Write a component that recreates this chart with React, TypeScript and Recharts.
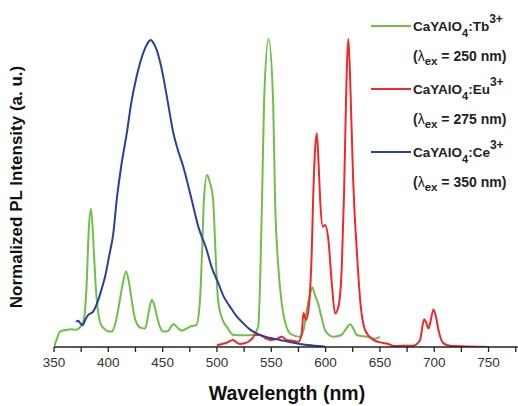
import React from 'react';
import { LineChart, Line, XAxis, YAxis } from 'recharts';

// Tb3+ emission (λex = 250 nm)
const tbWavelength = [350, 353, 355.5, 361, 366, 370, 375.5, 378, 380, 382, 384, 386, 388, 390, 393, 396, 399, 403, 406, 409, 413, 416.3, 419, 421.5, 424, 426, 430, 434, 437, 440, 442, 444.5, 447, 450.6, 455, 458, 460, 463, 467.6, 472, 476.8, 481, 484.4, 486.5, 488, 490.9, 493, 496.5, 498.5, 501, 505, 509, 515, 525, 533, 538, 540, 541.5, 543.4, 547.5, 551.7, 553.5, 556.5, 559, 561, 564, 567, 572, 576.5, 580, 582.7, 585, 587.8, 590, 593, 596, 599.5, 603, 607, 614.5, 619, 622.5, 625.5, 628.7, 638, 645.6, 650];
const tbIntensity = [0, 0.03, 0.05, 0.055, 0.058, 0.056, 0.071, 0.1, 0.2, 0.38, 0.448, 0.36, 0.22, 0.13, 0.075, 0.06, 0.052, 0.05, 0.07, 0.12, 0.2, 0.245, 0.21, 0.153, 0.1, 0.078, 0.062, 0.06, 0.11, 0.153, 0.14, 0.104, 0.07, 0.05, 0.052, 0.068, 0.075, 0.065, 0.053, 0.06, 0.068, 0.071, 0.153, 0.33, 0.477, 0.558, 0.54, 0.477, 0.32, 0.153, 0.09, 0.066, 0.039, 0.038, 0.039, 0.066, 0.25, 0.477, 0.8, 1.0, 0.8, 0.477, 0.26, 0.16, 0.11, 0.065, 0.045, 0.036, 0.033, 0.06, 0.12, 0.16, 0.194, 0.17, 0.143, 0.1, 0.055, 0.04, 0.033, 0.039, 0.06, 0.074, 0.06, 0.039, 0.033, 0.027, 0.033];

// Eu3+ emission (λex = 275 nm)
const euWavelength = [500, 505, 509, 515, 518, 521, 525, 529, 533, 535, 539.7, 544, 549, 554, 559.7, 564, 570, 575, 578, 579.6, 582, 584.2, 587.3, 588.5, 590, 591.9, 593.5, 595, 597.4, 599.5, 602.6, 605.7, 608.7, 611.8, 614.9, 617, 618.8, 621, 623.2, 625.3, 626.5, 628.7, 631.8, 636.4, 644, 650, 654.8, 658, 662.4, 670, 680, 684, 687, 690.7, 692.5, 694.7, 697, 699.3, 701.5, 703.9, 708.5, 716, 730, 750];
const euIntensity = [0.006, 0.01, 0.014, 0.023, 0.015, 0.01, 0.012, 0.017, 0.03, 0.039, 0.039, 0.03, 0.023, 0.025, 0.033, 0.023, 0.02, 0.017, 0.044, 0.11, 0.088, 0.12, 0.315, 0.477, 0.62, 0.694, 0.6, 0.477, 0.39, 0.396, 0.347, 0.207, 0.109, 0.131, 0.26, 0.5, 0.8, 1.0, 0.8, 0.55, 0.45, 0.315, 0.153, 0.055, 0.023, 0.015, 0.012, 0.01, 0.003, 0.004, 0.004, 0.01, 0.023, 0.09, 0.08, 0.06, 0.09, 0.122, 0.1, 0.055, 0.012, 0.003, 0.002, 0];

// Ce3+ emission (λex = 350 nm)
const ceWavelength = [370.3, 372.4, 374, 376.4, 379, 381.6, 386, 390.8, 394, 397, 401, 404.6, 407.7, 412, 417, 421, 426, 432, 436, 439, 441, 444.6, 448, 450.6, 455, 459.9, 464, 469, 476.8, 482.9, 490.6, 495, 501.3, 506, 512, 518, 524.3, 530, 536.6, 539.7, 548, 558, 567, 576.5, 588, 599.5];
const ceIntensity = [0.082, 0.085, 0.078, 0.071, 0.09, 0.104, 0.115, 0.153, 0.19, 0.228, 0.3, 0.369, 0.477, 0.59, 0.694, 0.79, 0.877, 0.953, 0.985, 0.997, 0.99, 0.964, 0.92, 0.877, 0.79, 0.694, 0.64, 0.585, 0.477, 0.39, 0.315, 0.26, 0.207, 0.165, 0.131, 0.1, 0.077, 0.058, 0.044, 0.039, 0.03, 0.023, 0.016, 0.01, 0.005, 0.001];

const xTicks = [350, 375, 400, 425, 450, 475, 500, 525, 550, 575, 600, 625, 650, 675, 700, 725, 750, 775];

const GREEN = '#6fbf4a';
const RED = '#f02828';
const BLUE = '#2c3f99';

const toRows = (xs: number[], ys: number[]) => xs.map((x, i) => ({ x, y: ys[i] }));
const tbData = toRows(tbWavelength, tbIntensity);
const euData = toRows(euWavelength, euIntensity);
const ceData = toRows(ceWavelength, ceIntensity);

const FONT = '"Liberation Sans", Arial, sans-serif';

const legendItems = [
  { color: GREEN, ion: 'Tb', ex: '250' },
  { color: RED, ion: 'Eu', ex: '275' },
  { color: BLUE, ion: 'Ce', ex: '350' },
];

export default function App() {
  return (
    <div style={{ position: 'absolute', left: 0, top: 0, width: 518, height: 406, overflow: 'hidden', background: '#fff' }}>
      <LineChart
        width={540}
        height={406}
        margin={{ top: 6, left: 54, right: 8, bottom: 29 }}
      >
        <XAxis
          dataKey="x"
          type="number"
          domain={[350, 790]}
          ticks={xTicks}
          tickFormatter={(v: number) => (v % 50 === 0 ? String(v) : '')}
          tickSize={5}
          tickMargin={5}
          height={30}
          axisLine={{ stroke: '#222', strokeWidth: 1.3 }}
          tickLine={{ stroke: '#222', strokeWidth: 1.3 }}
          tick={{ fill: '#333', fontSize: 13.5, fontFamily: FONT }}
          allowDataOverflow
        />
        <XAxis
          xAxisId="top"
          orientation="top"
          type="number"
          domain={[350, 790]}
          height={0}
          tick={false}
          tickLine={false}
          axisLine={{ stroke: '#222', strokeWidth: 1.5 }}
        />
        <YAxis
          type="number"
          domain={[0, 1.107]}
          width={0}
          tick={false}
          tickLine={false}
          axisLine={{ stroke: '#222', strokeWidth: 1.3 }}
          allowDataOverflow
        />
        <Line data={tbData} dataKey="y" type="monotone" stroke={GREEN} strokeWidth={2} dot={false} isAnimationActive={false} />
        <Line data={euData} dataKey="y" type="monotone" stroke={RED} strokeWidth={2} dot={false} isAnimationActive={false} />
        <Line data={ceData} dataKey="y" type="monotone" stroke={BLUE} strokeWidth={2} dot={false} isAnimationActive={false} />
      </LineChart>
      <svg width={518} height={406} style={{ position: 'absolute', left: 0, top: 0, pointerEvents: 'none' }}>
        <text
          transform="translate(22,187) rotate(-90)"
          textAnchor="middle"
          fontFamily={FONT}
          fontWeight="bold"
          fontSize={17}
          fill="#111"
        >
          Normalized PL Intensity (a. u.)
        </text>
        <text x={287} y={400} textAnchor="middle" fontFamily={FONT} fontWeight="bold" fontSize={19.5} fill="#111">
          Wavelength (nm)
        </text>
        {legendItems.map((it, i) => {
          const base = 31 + i * 63;
          return (
            <g key={it.ion}>
              <line x1={371} x2={411} y1={base - 5} y2={base - 5} stroke={it.color} strokeWidth={2} />
              <text x={413} y={base} fontFamily={FONT} fontWeight="bold" fontSize={13.5} fill="#222">
                CaYAlO
                <tspan fontSize={11} dy={6}>4</tspan>
                <tspan dy={-6}>:{it.ion}</tspan>
                <tspan fontSize={12} dy={-8}>3+</tspan>
              </text>
              <text x={413} y={base + 30} fontFamily={FONT} fontWeight="bold" fontSize={14} fill="#222">
                (<tspan fontWeight="normal">λ</tspan>
                <tspan fontSize={11.5} dy={4}>ex</tspan>
                <tspan dy={-4}> = {it.ex} nm)</tspan>
              </text>
            </g>
          );
        })}
      </svg>
    </div>
  );
}
